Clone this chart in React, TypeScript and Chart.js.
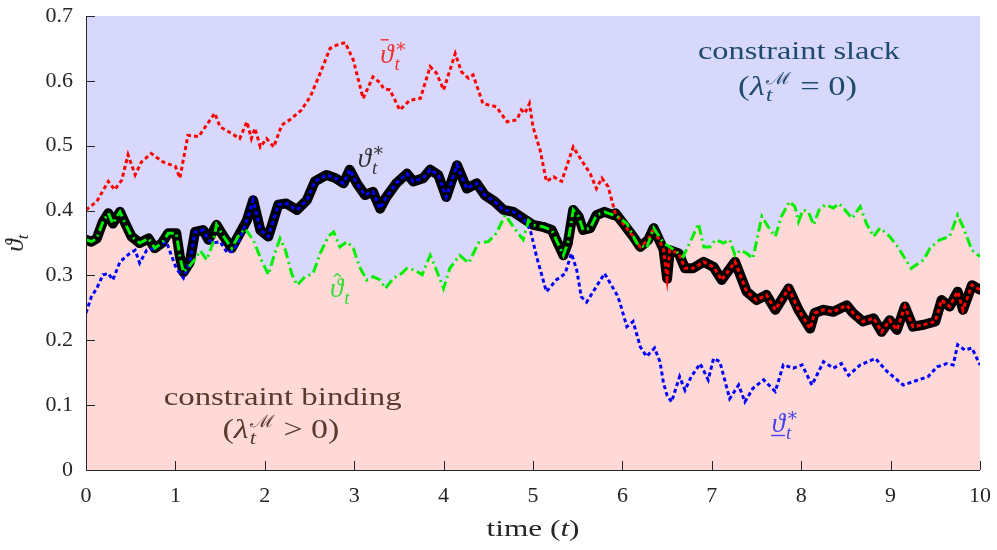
import React, { useEffect, useRef } from "react";
import { Chart, registerables } from "chart.js";

Chart.register(...registerables);

type P = [number, number];

// ---------- data ----------
const xTickValues = [0, 1, 2, 3, 4, 5, 6, 7, 8, 9, 10];
const yTickValues = [0, 0.1, 0.2, 0.3, 0.4, 0.5, 0.6, 0.7];

// upper bound  (overline theta*)
const upperBound: P[] = [
  [0, 0.401], [0.12, 0.414], [0.25, 0.445], [0.32, 0.432], [0.4, 0.447], [0.47, 0.486], [0.55, 0.455],
  [0.62, 0.475], [0.73, 0.488], [0.86, 0.475], [1.0, 0.468], [1.05, 0.45], [1.14, 0.516], [1.26, 0.514],
  [1.35, 0.532], [1.44, 0.55], [1.5, 0.529], [1.59, 0.522], [1.72, 0.511], [1.8, 0.537], [1.85, 0.511],
  [1.89, 0.527], [1.95, 0.498], [2.02, 0.511], [2.1, 0.498], [2.19, 0.532], [2.28, 0.54], [2.41, 0.555],
  [2.51, 0.576], [2.62, 0.612], [2.73, 0.65], [2.8, 0.655], [2.9, 0.659], [2.99, 0.632], [3.1, 0.573],
  [3.21, 0.606], [3.29, 0.597], [3.33, 0.588], [3.4, 0.586], [3.51, 0.555], [3.62, 0.57], [3.74, 0.573],
  [3.85, 0.622], [3.92, 0.612], [4.0, 0.586], [4.13, 0.642], [4.2, 0.614], [4.28, 0.604], [4.33, 0.609],
  [4.44, 0.565], [4.59, 0.56], [4.71, 0.537], [4.82, 0.54], [4.87, 0.555], [4.91, 0.55], [4.96, 0.565],
  [5.0, 0.529], [5.08, 0.493], [5.15, 0.445], [5.23, 0.452], [5.32, 0.445], [5.45, 0.498], [5.54, 0.478],
  [5.64, 0.457], [5.71, 0.434], [5.77, 0.45], [5.84, 0.437], [5.92, 0.396], [6.01, 0.38], [6.12, 0.36],
  [6.2, 0.344], [6.29, 0.355], [6.35, 0.373], [6.42, 0.352], [6.46, 0.34], [6.5, 0.295], [6.53, 0.339],
  [6.63, 0.334], [6.7, 0.311], [6.79, 0.311], [6.91, 0.321], [7.02, 0.313], [7.11, 0.293], [7.26, 0.321],
  [7.39, 0.275], [7.5, 0.262], [7.61, 0.27], [7.71, 0.247], [7.86, 0.28], [7.97, 0.247], [8.1, 0.218],
  [8.15, 0.242], [8.25, 0.247], [8.36, 0.244], [8.51, 0.254], [8.58, 0.242], [8.69, 0.229], [8.81, 0.234],
  [8.9, 0.213], [8.99, 0.231], [9.07, 0.216], [9.16, 0.252], [9.25, 0.221], [9.37, 0.224], [9.5, 0.229],
  [9.57, 0.262], [9.66, 0.252], [9.75, 0.275], [9.81, 0.247], [9.91, 0.285], [10, 0.278],
];

// lower bound (underline theta*)
const lowerBound: P[] = [
  [0, 0.242], [0.06, 0.267], [0.12, 0.28], [0.19, 0.301], [0.25, 0.303], [0.3, 0.293], [0.38, 0.321],
  [0.49, 0.334], [0.55, 0.339], [0.6, 0.319], [0.68, 0.339], [0.77, 0.342], [0.83, 0.348], [0.9, 0.352],
  [0.96, 0.329], [1.01, 0.311], [1.09, 0.296], [1.16, 0.32], [1.22, 0.367], [1.31, 0.37], [1.37, 0.355],
  [1.42, 0.35], [1.5, 0.352], [1.58, 0.335], [1.65, 0.338], [1.72, 0.356], [1.8, 0.385], [1.87, 0.416],
  [1.95, 0.37], [2.04, 0.36], [2.15, 0.409], [2.24, 0.411], [2.36, 0.401], [2.47, 0.416], [2.56, 0.445],
  [2.69, 0.455], [2.79, 0.45], [2.88, 0.442], [2.95, 0.463], [3.03, 0.442], [3.12, 0.424], [3.21, 0.429],
  [3.29, 0.403], [3.36, 0.421], [3.47, 0.442], [3.59, 0.457], [3.66, 0.445], [3.77, 0.45], [3.85, 0.463],
  [3.94, 0.455], [4.03, 0.421], [4.15, 0.47], [4.26, 0.434], [4.37, 0.442], [4.46, 0.424], [4.57, 0.414],
  [4.67, 0.401], [4.78, 0.398], [4.89, 0.388], [4.97, 0.37], [5.04, 0.329], [5.15, 0.275], [5.26, 0.293],
  [5.36, 0.303], [5.43, 0.334], [5.49, 0.308], [5.54, 0.267], [5.6, 0.259], [5.71, 0.283], [5.8, 0.303],
  [5.94, 0.27], [5.97, 0.259], [6.05, 0.221], [6.12, 0.229], [6.2, 0.19], [6.27, 0.175], [6.36, 0.188],
  [6.42, 0.167], [6.46, 0.134], [6.5, 0.115], [6.55, 0.105], [6.64, 0.144], [6.7, 0.123], [6.77, 0.144],
  [6.87, 0.164], [6.96, 0.139], [7.02, 0.172], [7.09, 0.167], [7.2, 0.11], [7.3, 0.131], [7.37, 0.105],
  [7.46, 0.126], [7.58, 0.139], [7.71, 0.121], [7.8, 0.162], [7.91, 0.157], [8.01, 0.162], [8.12, 0.131],
  [8.25, 0.167], [8.36, 0.157], [8.45, 0.164], [8.53, 0.146], [8.66, 0.162], [8.83, 0.172], [8.96, 0.152],
  [9.14, 0.131], [9.31, 0.139], [9.42, 0.144], [9.52, 0.159], [9.63, 0.164], [9.7, 0.162], [9.75, 0.193],
  [9.83, 0.185], [9.91, 0.188], [10, 0.162],
];

// unconstrained (hat theta)
const thetaHat: P[] = [
  [0, 0.355], [0.06, 0.352], [0.12, 0.357], [0.19, 0.383], [0.25, 0.396], [0.3, 0.38], [0.38, 0.398],
  [0.44, 0.38], [0.51, 0.36], [0.6, 0.35], [0.7, 0.357], [0.77, 0.342], [0.85, 0.35], [0.92, 0.365],
  [1.01, 0.365], [1.05, 0.329], [1.09, 0.305], [1.16, 0.315], [1.22, 0.325], [1.28, 0.338], [1.35, 0.324],
  [1.42, 0.35], [1.46, 0.378], [1.54, 0.36], [1.63, 0.342], [1.7, 0.36], [1.78, 0.372], [1.87, 0.355],
  [1.96, 0.324], [2.04, 0.301], [2.1, 0.329], [2.17, 0.357], [2.23, 0.339], [2.3, 0.303], [2.36, 0.285],
  [2.45, 0.298], [2.54, 0.303], [2.62, 0.334], [2.71, 0.36], [2.77, 0.367], [2.84, 0.344], [2.92, 0.352],
  [2.99, 0.342], [3.06, 0.313], [3.14, 0.293], [3.21, 0.298], [3.29, 0.293], [3.35, 0.28], [3.44, 0.296],
  [3.53, 0.303], [3.59, 0.311], [3.68, 0.308], [3.76, 0.301], [3.85, 0.331], [3.92, 0.308], [4.0, 0.28],
  [4.07, 0.311], [4.18, 0.331], [4.28, 0.319], [4.39, 0.35], [4.5, 0.352], [4.59, 0.365], [4.69, 0.393],
  [4.78, 0.375], [4.89, 0.355], [4.95, 0.385], [5.0, 0.378], [5.11, 0.375], [5.21, 0.37], [5.34, 0.331],
  [5.39, 0.35], [5.45, 0.401], [5.51, 0.391], [5.56, 0.37], [5.64, 0.373], [5.71, 0.393], [5.8, 0.398],
  [5.9, 0.393], [5.94, 0.391], [6.05, 0.38], [6.16, 0.35], [6.27, 0.342], [6.35, 0.373], [6.46, 0.35],
  [6.53, 0.344], [6.68, 0.329], [6.77, 0.355], [6.85, 0.38], [6.91, 0.344], [6.98, 0.344], [7.04, 0.355],
  [7.13, 0.35], [7.2, 0.355], [7.26, 0.331], [7.32, 0.339], [7.39, 0.334], [7.46, 0.326], [7.56, 0.391],
  [7.63, 0.375], [7.71, 0.36], [7.78, 0.391], [7.87, 0.414], [7.93, 0.406], [7.97, 0.383], [8.02, 0.401],
  [8.08, 0.398], [8.14, 0.378], [8.2, 0.401], [8.27, 0.409], [8.36, 0.404], [8.42, 0.411], [8.49, 0.401],
  [8.57, 0.388], [8.66, 0.406], [8.73, 0.38], [8.81, 0.36], [8.88, 0.373], [8.99, 0.36], [9.08, 0.344],
  [9.16, 0.326], [9.23, 0.311], [9.37, 0.324], [9.44, 0.342], [9.55, 0.355], [9.66, 0.36], [9.75, 0.393],
  [9.81, 0.375], [9.91, 0.339], [10, 0.329],
];

// constrained optimum (theta*) up to t = 5.9; afterwards it coincides with the upper bound
const thetaStarEarly: P[] = [
  [0, 0.355], [0.06, 0.352], [0.12, 0.357], [0.19, 0.383], [0.25, 0.396], [0.3, 0.38], [0.38, 0.398],
  [0.44, 0.38], [0.51, 0.36], [0.6, 0.35], [0.7, 0.357], [0.77, 0.342], [0.85, 0.35], [0.92, 0.365],
  [1.01, 0.365], [1.05, 0.329], [1.09, 0.305], [1.16, 0.32], [1.22, 0.367], [1.31, 0.37], [1.37, 0.355],
  [1.46, 0.378], [1.54, 0.36], [1.63, 0.342], [1.7, 0.36], [1.8, 0.385], [1.87, 0.416], [1.95, 0.37],
  [2.04, 0.36], [2.15, 0.409], [2.24, 0.411], [2.36, 0.401], [2.47, 0.416], [2.56, 0.445], [2.69, 0.455],
  [2.79, 0.45], [2.88, 0.442], [2.95, 0.463], [3.03, 0.442], [3.12, 0.424], [3.21, 0.429], [3.29, 0.403],
  [3.36, 0.421], [3.47, 0.442], [3.59, 0.457], [3.66, 0.445], [3.77, 0.45], [3.85, 0.463], [3.94, 0.455],
  [4.03, 0.421], [4.15, 0.47], [4.26, 0.434], [4.37, 0.442], [4.46, 0.424], [4.57, 0.414], [4.67, 0.401],
  [4.78, 0.398], [4.89, 0.388], [5.0, 0.378], [5.11, 0.375], [5.21, 0.37], [5.34, 0.331], [5.39, 0.35],
  [5.45, 0.401], [5.51, 0.391], [5.56, 0.37], [5.64, 0.373], [5.71, 0.393], [5.8, 0.398], [5.9, 0.393],
];
const thetaStar: P[] = thetaStarEarly.concat(upperBound.filter((p) => p[0] >= 5.92));

// ---------- styles ----------
const BLUE_BG = "rgb(216,216,252)";
const PINK_BG = "rgb(255,216,216)";
const AXIS_COLOR = "#262626";
const SERIF = '"Liberation Serif", "DejaVu Serif", serif';

type Run = { t: string; size: number; italic?: boolean; dy?: number; dx?: number; adv?: boolean; deco?: "bar" | "hat" | "under" };

function fontOf(r: Run) {
  return `${r.italic ? "italic " : ""}${r.size}px ${SERIF}`;
}

function runsWidth(ctx: CanvasRenderingContext2D, runs: Run[]) {
  let w = 0;
  let pending = 0;
  for (const r of runs) {
    ctx.font = fontOf(r);
    const rw = ctx.measureText(r.t).width + (r.dx || 0);
    if (r.adv === false) pending = Math.max(pending, rw);
    else {
      w += Math.max(rw, pending);
      pending = 0;
    }
  }
  return w + pending;
}

function drawRuns(
  ctx: CanvasRenderingContext2D,
  runs: Run[],
  x: number,
  y: number,
  align: "left" | "center",
  color: string,
  targetW?: number
) {
  ctx.save();
  ctx.fillStyle = color;
  ctx.strokeStyle = color;
  ctx.textBaseline = "alphabetic";
  ctx.textAlign = "left";
  const total = runsWidth(ctx, runs);
  const sx = targetW ? targetW / total : 1;
  const startX = align === "center" ? x - (total * sx) / 2 : x;
  ctx.translate(startX, y);
  ctx.scale(sx, 1);
  let cx = 0;
  let pending = 0;
  for (const r of runs) {
    ctx.font = fontOf(r);
    const mw = ctx.measureText(r.t).width;
    const px = cx + (r.dx || 0);
    const py = r.dy || 0;
    ctx.fillText(r.t, px, py);
    if (r.deco) {
      ctx.lineWidth = 1.4;
      ctx.beginPath();
      if (r.deco === "bar") {
        ctx.moveTo(px + r.size * 0.02, py - r.size * 0.86);
        ctx.lineTo(px + mw * 0.65, py - r.size * 0.86);
      } else if (r.deco === "under") {
        ctx.moveTo(px - r.size * 0.02, py + r.size * 0.13);
        ctx.lineTo(px + mw, py + r.size * 0.13);
      } else {
        const c = px + mw * 0.55;
        ctx.moveTo(c - r.size * 0.13, py - r.size * 0.74);
        ctx.lineTo(c, py - r.size * 0.86);
        ctx.lineTo(c + r.size * 0.13, py - r.size * 0.74);
      }
      ctx.stroke();
    }
    const rw = mw + (r.dx || 0);
    if (r.adv === false) pending = Math.max(pending, rw);
    else {
      cx += Math.max(rw, pending);
      pending = 0;
    }
  }
  ctx.restore();
}

const thetaLabel = (deco?: "bar" | "hat" | "under", star = true, size = 27): Run[] => {
  const runs: Run[] = [{ t: "ϑ", size, italic: true, deco }];
  if (star) runs.push({ t: "∗", size: size * 0.68, dy: -size * 0.42, dx: 1, adv: false });
  runs.push({ t: "t", size: size * 0.7, italic: true, dy: size * 0.25, dx: 1 });
  return runs;
};

const lambdaLabel = (rel: string): Run[] => [
  { t: "(", size: 27 },
  { t: "λ", size: 27, italic: true },
  { t: "ℳ", size: 17, dy: -11, dx: 1, adv: false },
  { t: "t", size: 18, italic: true, dy: 6, dx: 1 },
  { t: ` ${rel} 0)`, size: 27 },
];

export default function App() {
  const ref = useRef<HTMLCanvasElement | null>(null);

  useEffect(() => {
    document.body.style.margin = "0";
    const canvas = ref.current;
    if (!canvas) return;

    const bgPlugin = {
      id: "bgPlugin",
      beforeDraw(chart: any) {
        const { ctx, chartArea: a } = chart;
        ctx.save();
        ctx.fillStyle = "#ffffff";
        ctx.fillRect(0, 0, chart.width, chart.height);
        ctx.fillStyle = BLUE_BG;
        ctx.fillRect(a.left, a.top, a.right - a.left, a.bottom - a.top);
        ctx.restore();
      },
    };

    const overlayPlugin = {
      id: "overlayPlugin",
      afterDraw(chart: any) {
        const { ctx, chartArea: a, scales } = chart;
        const xs = scales.x;
        const ys = scales.y;
        const X = (v: number) => xs.getPixelForValue(v);
        const Y = (v: number) => ys.getPixelForValue(v);

        // axes + inward ticks
        ctx.save();
        ctx.strokeStyle = AXIS_COLOR;
        ctx.lineWidth = 1;
        ctx.beginPath();
        ctx.moveTo(a.left + 0.5, a.top);
        ctx.lineTo(a.left + 0.5, a.bottom + 0.5);
        ctx.lineTo(a.right, a.bottom + 0.5);
        for (const v of xTickValues) {
          const px = Math.round(X(v)) + 0.5;
          ctx.moveTo(px, a.bottom);
          ctx.lineTo(px, a.bottom - 9);
        }
        for (const v of yTickValues) {
          const py = Math.round(Y(v)) + 0.5;
          ctx.moveTo(a.left, py);
          ctx.lineTo(a.left + 9, py);
        }
        ctx.stroke();
        ctx.restore();

        // region annotations
        drawRuns(ctx, [{ t: "constraint slack", size: 26 }], X(7.975), Y(0.634), "center", "#1d4a6d", 202);
        drawRuns(ctx, [{ t: "constraint binding", size: 26 }], X(2.2), Y(0.1), "center", "#5a3a2c", 238);
        drawRuns(ctx, lambdaLabel("="), X(7.96), Y(0.578), "center", "#1d4a6d", 119);
        drawRuns(ctx, lambdaLabel(">"), X(2.18), Y(0.049), "center", "#5a3a2c", 117);

        // series labels
        drawRuns(ctx, thetaLabel("bar"), X(3.29), Y(0.6275), "left", "#f03030");
        drawRuns(ctx, thetaLabel(undefined), X(3.04), Y(0.467), "left", "#333333");
        drawRuns(ctx, thetaLabel("hat", false), X(2.73), Y(0.267), "left", "#33dd33");
        drawRuns(ctx, thetaLabel("under"), X(7.67), Y(0.0586), "left", "#4444ee");

        // axis titles
        drawRuns(
          ctx,
          [
            { t: "time (", size: 24 },
            { t: "t", size: 24, italic: true },
            { t: ")", size: 24 },
          ],
          (a.left + a.right) / 2,
          536,
          "center",
          AXIS_COLOR,
          93
        );
        ctx.save();
        ctx.translate(23, (a.top + a.bottom) / 2);
        ctx.rotate(-Math.PI / 2);
        drawRuns(
          ctx,
          [
            { t: "ϑ", size: 25, italic: true },
            { t: "t", size: 17, italic: true, dy: 5 },
          ],
          0,
          0,
          "center",
          AXIS_COLOR
        );
        ctx.restore();
      },
    };

    const toXY = (arr: P[]) => arr.map(([x, y]) => ({ x, y }));

    const chart = new Chart(canvas, {
      type: "line",
      data: {
        datasets: [
          {
            label: "binding region",
            data: toXY(thetaHat),
            borderWidth: 0,
            borderColor: "rgba(0,0,0,0)",
            backgroundColor: PINK_BG,
            fill: "origin",
            pointRadius: 0,
            order: 20,
          },
          {
            label: "theta star",
            data: toXY(thetaStar),
            borderColor: "#000000",
            borderWidth: 10,
            borderJoinStyle: "round",
            borderCapStyle: "round",
            fill: false,
            pointRadius: 0,
            order: 10,
          },
          {
            label: "upper",
            data: toXY(upperBound),
            borderColor: "#ff0000",
            borderWidth: 3,
            borderDash: [4, 3],
            fill: false,
            pointRadius: 0,
            order: 3,
          },
          {
            label: "lower",
            data: toXY(lowerBound),
            borderColor: "#0000ff",
            borderWidth: 3,
            borderDash: [4, 3],
            fill: false,
            pointRadius: 0,
            order: 2,
          },
          {
            label: "hat",
            data: toXY(thetaHat),
            borderColor: "#00ee00",
            borderWidth: 3,
            borderDash: [10, 4, 2, 4],
            fill: false,
            pointRadius: 0,
            order: 1,
          },
        ],
      } as any,
      options: {
        animation: false,
        responsive: false,
        maintainAspectRatio: false,
        devicePixelRatio: 1,
        layout: { padding: { top: 16, right: 17, left: 0, bottom: 0 } },
        elements: { line: { tension: 0 }, point: { radius: 0 } },
        plugins: {
          legend: { display: false },
          tooltip: { enabled: false },
          filler: { drawTime: "beforeDatasetsDraw" },
        } as any,
        scales: {
          x: {
            type: "linear",
            min: 0,
            max: 10,
            grid: { display: false, drawTicks: false },
            border: { display: false },
            afterBuildTicks: (s: any) => {
              s.ticks = xTickValues.map((v) => ({ value: v }));
            },
            afterFit: (s: any) => {
              s.height = 80;
              s.paddingLeft = 0;
              s.paddingRight = 0;
            },
            ticks: {
              color: AXIS_COLOR,
              font: { family: SERIF, size: 22 },
              padding: 13,
              maxRotation: 0,
              autoSkip: false,
              callback: (v: any) => String(v),
            },
          },
          y: {
            type: "linear",
            min: 0,
            max: 0.7,
            grid: { display: false, drawTicks: false },
            border: { display: false },
            afterBuildTicks: (s: any) => {
              s.ticks = yTickValues.map((v) => ({ value: v }));
            },
            afterFit: (s: any) => {
              s.width = 86;
              s.paddingTop = 0;
              s.paddingBottom = 0;
            },
            ticks: {
              color: AXIS_COLOR,
              font: { family: SERIF, size: 22 },
              padding: 13,
              autoSkip: false,
              callback: (v: any) => String(Math.round(Number(v) * 10) / 10),
            },
          },
        },
      } as any,
      plugins: [bgPlugin, overlayPlugin],
    });

    return () => chart.destroy();
  }, []);

  return (
    <div style={{ position: "absolute", left: 0, top: 0, width: 997, height: 550 }}>
      <canvas ref={ref} width={997} height={550} style={{ width: 997, height: 550 }} />
    </div>
  );
}
